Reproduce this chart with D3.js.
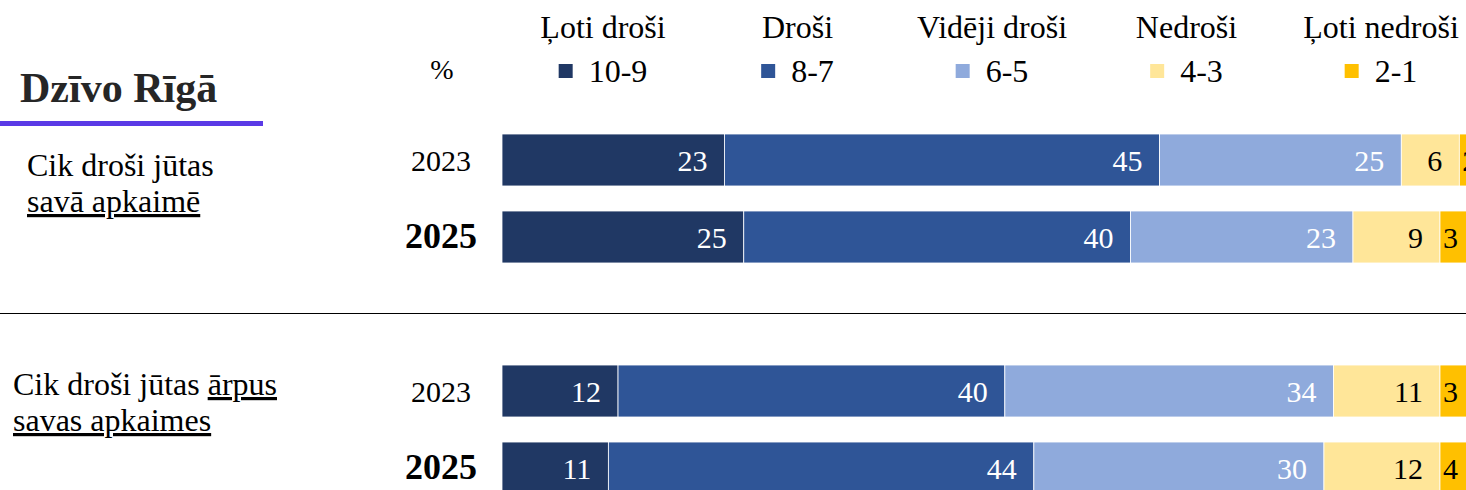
<!DOCTYPE html>
<html>
<head>
<meta charset="utf-8">
<script src="https://cdn.jsdelivr.net/npm/d3@7"></script>
<style>
  body { margin: 0; overflow: hidden; background: #fff; }
  text { font-family: "Liberation Serif", "Times New Roman", serif; }
</style>
</head>
<body>
<div id="chart"></div>
<script>
// answer categories and score bands
var categories = ["Ļoti droši", "Droši", "Vidēji droši", "Nedroši", "Ļoti nedroši"];
var scoreBands = ["10-9", "8-7", "6-5", "4-3", "2-1"];
var years = ["2023", "2025"];

// % per year, in category order
var inNeighbourhood = [[23, 45, 25, 6, 2], [25, 40, 23, 9, 3]];
var outsideNeighbourhood = [[12, 40, 34, 11, 3], [11, 44, 30, 12, 4]];

var palette = ["#203864", "#2f5597", "#8faadc", "#ffe699", "#ffc000"];
var labelColor = ["#fff", "#fff", "#fff", "#000", "#000"];

var width = 1466, height = 490;

var svg = d3.select("#chart")
  .append("svg")
    .attr("width", width)
    .attr("height", height);

// rows: two bars, an empty slot, two bars
var rowKeys = ["a2023", "a2025", "gap", "b2023", "b2025"];
var rows = [
  {key: "a2023", year: years[0], values: inNeighbourhood[0]},
  {key: "a2025", year: years[1], values: inNeighbourhood[1]},
  {key: "b2023", year: years[0], values: outsideNeighbourhood[0]},
  {key: "b2025", year: years[1], values: outsideNeighbourhood[1]}
];

var x = d3.scaleLinear().domain([0, 100]).range([502, 1469]);
var y = d3.scaleBand()
    .domain(rowKeys)
    .range([134, 494])
    .paddingInner(0.325)
    .paddingOuter(0);

var color = d3.scaleOrdinal().domain(categories).range(palette);

// title block
svg.append("text")
    .attr("x", 20)
    .attr("y", 102)
    .attr("font-size", 42)
    .attr("font-weight", "bold")
    .attr("fill", "#262626")
    .text("Dzīvo Rīgā");
svg.append("rect")
    .attr("x", 0)
    .attr("y", 121)
    .attr("width", 263)
    .attr("height", 5)
    .attr("fill", "#5a3ae6");

svg.append("text")
    .attr("x", 442)
    .attr("y", 79)
    .attr("text-anchor", "middle")
    .attr("font-size", 28)
    .text("%");

// legend
var legendX = d3.scalePoint().domain(categories).range([603, 1381]);
var legend = svg.selectAll(".legend")
    .data(categories)
    .enter()
    .append("g")
    .attr("class", "legend")
    .attr("transform", function(d) { return "translate(" + legendX(d) + ",0)"; });

legend.append("text")
    .attr("y", 38)
    .attr("text-anchor", "middle")
    .attr("font-size", 32)
    .text(function(d) { return d; });

legend.each(function(d, i) {
  var g = d3.select(this);
  var lbl = g.append("text")
      .attr("y", 82)
      .attr("font-size", 32)
      .text(scoreBands[i]);
  var w = lbl.node().getComputedTextLength();
  var total = 14 + 16 + w;
  var start = -total / 2;
  g.append("rect")
      .attr("x", start)
      .attr("y", 64)
      .attr("width", 14)
      .attr("height", 14)
      .attr("fill", color(d));
  lbl.attr("x", start + 30);
});

// separator
svg.append("line")
    .attr("x1", 0)
    .attr("x2", width)
    .attr("y1", 313.5)
    .attr("y2", 313.5)
    .attr("stroke", "#000")
    .attr("stroke-width", 1.2);

// question labels
function question(lines, x0, y0) {
  var t = svg.append("text").attr("font-size", 32).attr("fill", "#000");
  lines.forEach(function(parts, li) {
    parts.forEach(function(p, pi) {
      var ts = t.append("tspan").text(p.text);
      if (pi === 0) ts.attr("x", x0).attr("y", y0 + li * 36);
      if (p.u) ts.attr("text-decoration", "underline");
    });
  });
}
question([[{text: "Cik droši jūtas"}], [{text: "savā apkaimē", u: true}]], 27, 176);
question([[{text: "Cik droši jūtas "}, {text: "ārpus", u: true}], [{text: "savas apkaimes", u: true}]], 13, 395);

// bars
var bar = svg.selectAll(".row")
    .data(rows)
    .enter()
    .append("g")
    .attr("class", "row")
    .attr("transform", function(d) { return "translate(0," + y(d.key) + ")"; });

bar.append("text")
    .attr("x", 441)
    .attr("y", y.bandwidth() / 2 + 11)
    .attr("text-anchor", "middle")
    .attr("font-size", function(d) { return d.year === "2025" ? 36 : 30; })
    .attr("font-weight", function(d) { return d.year === "2025" ? "bold" : "normal"; })
    .text(function(d) { return d.year; });

var seg = bar.selectAll(".seg")
    .data(function(d) {
      var ends = d3.cumsum(d.values);
      return d.values.map(function(v, i) {
        return {cat: categories[i], i: i, v: v, x0: ends[i] - v, x1: ends[i]};
      });
    })
    .enter()
    .append("g")
    .attr("class", "seg");

seg.append("rect")
    .attr("x", function(d) { return x(d.x0); })
    .attr("y", 0)
    .attr("width", function(d) { return x(d.x1) - x(d.x0); })
    .attr("height", y.bandwidth())
    .attr("fill", function(d) { return color(d.cat); })
    .attr("stroke", "#fff")
    .attr("stroke-width", 0.8);

seg.append("text")
    .attr("x", function(d) {
      return d.i === 4 ? x(d.x0) + 3 : x(d.x1) - 17;
    })
    .attr("y", y.bandwidth() / 2 + 11)
    .attr("text-anchor", function(d) { return d.i === 4 ? "start" : "end"; })
    .attr("font-size", 30)
    .attr("fill", function(d) { return labelColor[d.i]; })
    .text(function(d) { return d.v; });
</script>
</body>
</html>
